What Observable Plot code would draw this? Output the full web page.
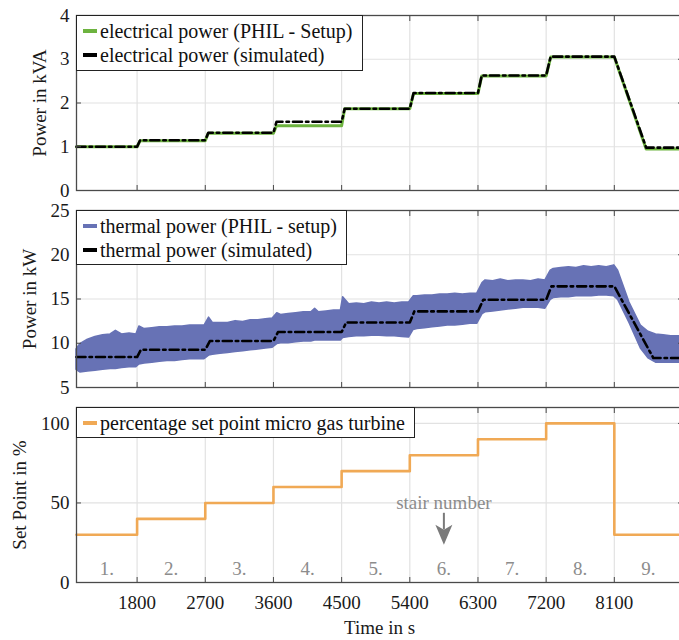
<!DOCTYPE html>
<html><head><meta charset="utf-8">
<script src="https://cdn.jsdelivr.net/npm/d3@7"></script>
<script src="https://cdn.jsdelivr.net/npm/@observablehq/plot@0.6"></script>
<style>
body{margin:0;background:#fff;}
#wrap{position:relative;width:679px;height:640px;overflow:hidden;font-family:"Liberation Serif","Times New Roman",serif;background:#fff;}
#wrap svg{display:block;}
.legend{position:absolute;background:#fff;border:1px solid #222;box-sizing:border-box;padding-top:3px;font-family:"Liberation Serif","Times New Roman",serif;font-size:20px;color:#111;}
.row{display:flex;align-items:center;height:24px;white-space:nowrap;}
.sw{display:inline-block;width:14px;height:4px;margin-left:6px;margin-right:3px;}
</style></head><body><div id="wrap"></div>
<script>
// ---- data ----
const timeTicks = [1800, 2700, 3600, 4500, 5400, 6300, 7200, 8100];
const elecTicks = [0, 1, 2, 3, 4];
const thermTicks = [5, 10, 15, 20, 25];
const spTicks = [0, 50, 100];

const elecTimes = [1000,1800,1840,2700,2740,3600,3640,4500,4540,5400,5450,6300,6350,7200,7260,8100,8520,9000];
const elecPHIL  = [1.0,1.0,1.14,1.14,1.31,1.31,1.48,1.48,1.87,1.87,2.22,2.22,2.62,2.62,3.05,3.05,0.95,0.95];
const elecSim   = [1.0,1.0,1.15,1.15,1.32,1.32,1.57,1.57,1.87,1.87,2.23,2.23,2.63,2.63,3.06,3.06,0.98,0.98];

const thermSimTimes = [1000,1800,1850,2700,2760,3600,3660,4500,4560,5400,5460,6300,6370,7200,7270,8100,8615,9000];
const thermSim      = [8.44,8.44,9.26,9.26,10.25,10.25,11.27,11.27,12.35,12.35,13.6,13.6,14.92,14.92,16.43,16.43,8.33,8.33];

const bandTimes = [
  1000,1050,1150,1250,1350,1450,1520,1600,1700,1790,
  1830,1900,2000,2100,2200,2300,2400,2500,2600,2690,
  2750,2800,2900,3000,3100,3200,3300,3400,3500,3590,
  3650,3700,3800,3900,4000,4100,4150,4200,4300,4400,
  4490,4520,4600,4700,4800,4900,5000,5100,5200,5300,
  5390,5450,5500,5600,5700,5800,5900,6000,6100,6200,
  6290,6360,6400,6500,6600,6700,6800,6900,7000,7100,
  7190,7260,7300,7400,7500,7600,7700,7800,7900,8000,
  8100,8150,8300,8450,8550,8650,8750,8850,9000];
const bandLow = [
  7.0,6.7,6.8,6.9,7.0,7.1,7.1,7.2,7.3,7.3,
  7.6,7.7,7.8,7.9,8.0,8.0,8.1,8.2,8.2,8.2,
  8.6,8.7,8.8,8.9,9.0,9.1,9.2,9.3,9.4,9.5,
  9.9,10.0,10.0,10.1,10.2,10.2,10.3,10.3,10.3,10.3,
  10.3,10.6,10.7,10.8,10.8,10.85,10.85,10.8,10.8,10.7,
  10.65,11.5,11.6,11.7,11.8,11.9,12.0,12.0,12.1,12.2,
  12.2,13.3,13.5,13.6,13.7,13.8,13.9,14.0,14.0,14.0,
  13.9,14.9,15.1,15.2,15.2,15.3,15.3,15.3,15.4,15.4,
  15.3,14.9,12.3,9.4,8.3,7.8,7.8,7.8,7.8];
const bandHigh = [
  9.3,9.9,10.4,10.7,10.9,11.0,11.4,11.0,11.1,11.0,
  11.9,11.6,11.7,11.8,11.8,11.9,11.9,12.0,12.0,12.0,
  12.9,12.3,12.3,12.3,12.5,12.4,12.6,12.6,12.7,12.8,
  13.4,13.2,13.3,13.4,13.5,13.5,13.9,13.5,13.6,13.7,
  13.7,15.2,14.4,14.5,14.4,14.6,14.5,14.6,14.5,14.6,
  14.6,15.3,15.3,15.4,15.4,15.5,15.5,15.6,15.5,15.6,
  15.6,16.8,17.1,17.0,17.2,17.0,17.1,17.1,17.0,17.2,
  17.1,18.2,18.4,18.5,18.6,18.5,18.7,18.6,18.7,18.6,
  18.8,18.2,14.6,12.0,11.3,11.0,10.9,10.8,10.8];

const spTimes  = [1000,1800,2700,3600,4500,5400,6300,7200,8100,9000];
const spValues = [30,40,50,60,70,80,90,100,30,30];

const stairCenters = [1400,2250,3150,4050,4950,5850,6750,7650,8550];
const stairLabels  = ["1.","2.","3.","4.","5.","6.","7.","8.","9."];
const noteText = "stair number";
const noteTime = 5850, noteValue = 50, arrowFrom = 43.5, arrowTo = 33, headValue = 30;

const legend1 = ["electrical power (PHIL - Setup)", "electrical power (simulated)"];
const legend2 = ["thermal power (PHIL - setup)", "thermal power (simulated)"];
const legend3 = ["percentage set point micro gas turbine"];

// ---- styles ----
const GREEN = "#6db33f", BLUE = "#6772b5", ORANGE = "#f0a955", GRAYTXT = "#8c8c8c";
const DASH = "9,4,2.5,4";
const FONT = '"Liberation Serif", "Times New Roman", serif';

const elecData = elecTimes.map((t, i) => ({t, phil: elecPHIL[i], sim: elecSim[i]}));
const thermSimData = thermSimTimes.map((t, i) => ({t, v: thermSim[i]}));
const bandData = bandTimes.map((t, i) => ({t, lo: bandLow[i], hi: bandHigh[i]}));
const spData = spTimes.map((t, i) => ({t, v: spValues[i]}));

function panel({height, marginTop, marginBottom, yDomain, yTicks, yLabel, labelOffset, marks, showX}) {
  const frameCol = "#4a4a4a";
  return Plot.plot({
    width: 679, height, marginLeft: 76, marginRight: -3, marginTop, marginBottom,
    style: {fontFamily: FONT, fontSize: "19px", color: "#1a1a1a", background: "transparent", overflow: "visible"},
    x: {domain: [1000, 9000]},
    y: {domain: yDomain},
    marks: [
      Plot.gridX(timeTicks, {stroke: "#e2e2e2", strokeOpacity: 1, strokeWidth: 1.2}),
      Plot.gridY(yTicks, {stroke: "#e2e2e2", strokeOpacity: 1, strokeWidth: 1.2}),
      ...marks,
      Plot.frame({stroke: frameCol, strokeWidth: 1.3}),
      Plot.axisX(timeTicks, {anchor: "bottom", tickSize: -5, tickFormat: () => "", label: null, stroke: frameCol}),
      Plot.axisX(timeTicks, {anchor: "top", tickSize: -5, tickFormat: () => "", label: null, stroke: frameCol}),
      Plot.axisY(yTicks, {anchor: "left", tickSize: -5, tickFormat: () => "", label: null, stroke: frameCol}),
      Plot.axisY(yTicks, {anchor: "right", tickSize: -5, tickFormat: () => "", label: null, stroke: frameCol}),
      Plot.axisY(yTicks, {anchor: "left", tickSize: 0, tickPadding: 7, tickFormat: d => String(d), label: yLabel, labelAnchor: "center", labelOffset, labelArrow: "none"}),
      showX ? Plot.axisX(timeTicks, {anchor: "bottom", tickSize: 0, tickPadding: 13, tickFormat: d => String(d), label: "Time in s", labelAnchor: "center", labelOffset: 51, labelArrow: "none"}) : null
    ]
  });
}

const arrowHead = {draw(ctx) { ctx.moveTo(0, 10); ctx.lineTo(-8.5, -10); ctx.lineTo(0, -5); ctx.lineTo(8.5, -10); ctx.closePath(); }};

const p1 = panel({height: 200, marginTop: 15, marginBottom: 10, yDomain: [0, 4], yTicks: elecTicks, yLabel: "Power in kVA", labelOffset: 44, marks: [
  Plot.line(elecData, {x: "t", y: "phil", stroke: GREEN, strokeWidth: 3}),
  Plot.line(elecData, {x: "t", y: "sim", stroke: "#000", strokeWidth: 2.6, strokeDasharray: DASH})
]});
const p2 = panel({height: 197, marginTop: 10, marginBottom: 10, yDomain: [5, 25], yTicks: thermTicks, yLabel: "Power in kW", labelOffset: 54, marks: [
  Plot.areaY(bandData, {x: "t", y1: "lo", y2: "hi", fill: BLUE, stroke: BLUE, strokeWidth: 1.5}),
  Plot.line(thermSimData, {x: "t", y: "v", stroke: "#000", strokeWidth: 2.6, strokeDasharray: DASH})
]});
const p3 = panel({height: 243, marginTop: 10, marginBottom: 58, yDomain: [0, 110], yTicks: spTicks, yLabel: "Set Point in %", labelOffset: 64, showX: true, marks: [
  Plot.line(spData, {x: "t", y: "v", stroke: ORANGE, strokeWidth: 2.6, curve: "step-after"}),
  Plot.text(stairCenters, {x: d => d, text: (d, i) => stairLabels[i], frameAnchor: "bottom", dy: -14, lineAnchor: "middle", fill: GRAYTXT, fontSize: 19}),
  Plot.text([noteText], {x: () => noteTime, y: () => noteValue, text: d => d, fill: GRAYTXT, fontSize: 19, lineAnchor: "middle"}),
  Plot.ruleX([noteTime], {y1: arrowFrom, y2: arrowTo, stroke: "#7a7a7a", strokeWidth: 2}),
  Plot.dot([noteTime], {x: d => d, y: () => headValue, symbol: arrowHead, fill: "#7a7a7a", stroke: "none", r: 5})
]});

const wrap = document.getElementById("wrap");
wrap.append(p1, p2, p3);

function addLegend(items, colors, box) {
  const div = document.createElement("div");
  div.className = "legend";
  Object.assign(div.style, {left: box[0] + "px", top: box[1] + "px", width: box[2] + "px", height: box[3] + "px"});
  items.forEach((label, i) => {
    const row = document.createElement("div");
    row.className = "row";
    const sw = document.createElement("span");
    sw.className = "sw";
    sw.style.background = colors[i];
    const tx = document.createElement("span");
    tx.textContent = label;
    row.append(sw, tx);
    div.append(row);
  });
  wrap.append(div);
}
addLegend(legend1, [GREEN, "#000"], [76, 15, 287, 56]);
addLegend(legend2, [BLUE, "#000"], [76, 210, 271, 55]);
addLegend(legend3, [ORANGE], [76, 407, 339, 31]);
</script></body></html>
